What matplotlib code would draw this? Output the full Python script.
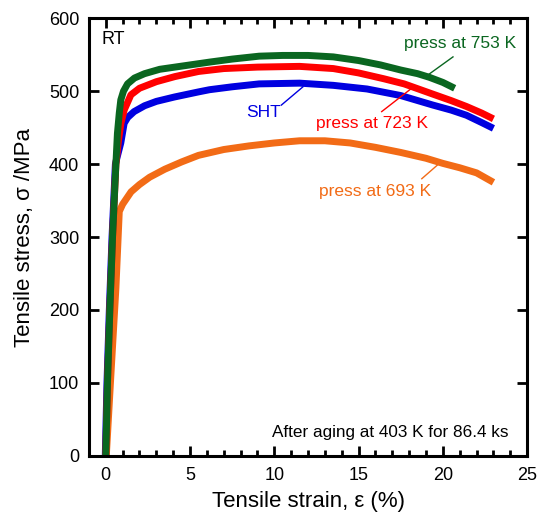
import matplotlib
matplotlib.use('Agg')
import matplotlib.pyplot as plt
from matplotlib.ticker import MultipleLocator

plt.rcParams['font.family'] = ['Liberation Sans', 'DejaVu Sans']

# ---- data ----
green_x = [0, 0.1, 0.24, 0.4, 0.6, 0.69, 0.8, 0.89, 1.05, 1.29, 1.7, 2.3, 3.2, 4.1, 5, 6.2,
           7.5, 9.1, 10.5, 12, 13.5, 15, 16.3, 17.5, 18.5, 19.2, 20, 20.7]
green_y = [0, 100, 200, 300, 400, 442, 470, 488, 500, 510, 518, 524, 530, 533, 536, 540,
           544, 548, 549, 549, 547, 542, 536, 529, 524, 519, 512, 504]

red_x = [0, 0.1, 0.24, 0.4, 0.6, 0.75, 0.9, 1.09, 1.49, 2, 3, 4.1, 5.5, 7, 9, 11.5, 13.5,
         15, 16.5, 17.7, 19.4, 20.5, 21.4, 22.3, 23]
red_y = [0, 100, 200, 300, 400, 432, 456, 474, 495, 504, 513, 520, 527, 531, 533, 534, 531,
         525, 517, 510, 496, 487, 479, 470, 462]

blue_x = [-0.03, 0.07, 0.21, 0.37, 0.57, 0.7, 0.89, 1.09, 1.3, 1.68, 2.3, 3, 4.07, 5.5, 6.15,
          7.5, 9.1, 11.5, 13.5, 15.5, 17.5, 19.4, 20.5, 21.4, 22.3, 23]
blue_y = [0, 100, 200, 300, 400, 412, 429, 456, 464, 472, 480, 486, 492, 499, 502,
          506, 510, 511, 508, 503, 494, 481, 474, 467, 457, 449]

orange_x = [0.03, 0.3, 0.6, 0.8, 1.0, 1.5, 2.0, 2.6, 3.5, 4.5, 5.5, 7, 8.5, 10, 11.5, 13,
            14.5, 16, 17.5, 19, 20, 21, 22, 23]
orange_y = [0, 110, 230, 335, 345, 362, 372, 382, 393, 403, 412, 420, 425, 429, 432, 432,
            429, 423, 416, 408, 401, 395, 388, 375]

c_green = '#0a6620'
c_red = '#ff0000'
c_blue = '#0000e0'
c_orange = '#f26b16'

fig = plt.figure(figsize=(5.39, 5.21), dpi=100)
ax = fig.add_axes([0.165, 0.125, 0.813, 0.84])

lw = 5
ax.plot(orange_x, orange_y, color=c_orange, lw=lw, solid_capstyle='butt')
ax.plot(blue_x, blue_y, color=c_blue, lw=lw, solid_capstyle='butt')
ax.plot(red_x, red_y, color=c_red, lw=lw, solid_capstyle='butt')
ax.plot(green_x, green_y, color=c_green, lw=lw, solid_capstyle='butt')

ax.set_xlim(-1, 25)
ax.set_ylim(0, 600)
ax.xaxis.set_major_locator(MultipleLocator(5))
ax.xaxis.set_minor_locator(MultipleLocator(1))
ax.yaxis.set_major_locator(MultipleLocator(100))
ax.tick_params(which='both', direction='in', top=True, right=True, width=2, labelsize=13)
ax.tick_params(which='major', length=7)
ax.tick_params(which='minor', length=4)
ax.tick_params(axis='x', which='major', pad=8)
ax.tick_params(axis='y', which='major', pad=7)
for s in ax.spines.values():
    s.set_linewidth(2.2)

ax.set_xlabel('Tensile strain, \u03b5 (%)', fontsize=16, labelpad=5)
ax.set_ylabel('Tensile stress, \u03c3 /MPa', fontsize=16, labelpad=10)

# annotations
ax.text(-0.25, 571, 'RT', fontsize=13, va='center', ha='left')
ax.text(21.0, 566, 'press at 753 K', color=c_green, fontsize=12.5, va='center', ha='center')
ax.plot([20.6, 19.1], [547, 522], color=c_green, lw=1)
ax.text(9.37, 471, 'SHT', color=c_blue, fontsize=12.5, va='center', ha='center')
ax.plot([10.42, 11.7], [481, 506], color=c_blue, lw=1)
ax.text(15.77, 456, 'press at 723 K', color=c_red, fontsize=12.5, va='center', ha='center')
ax.plot([16.37, 18.15], [472, 504], color=c_red, lw=1)
ax.text(15.97, 362, 'press at 693 K', color=c_orange, fontsize=12.5, va='center', ha='center')
ax.plot([18.75, 19.74], [380, 400], color=c_orange, lw=1)
ax.text(23.9, 32, 'After aging at 403 K for 86.4 ks', fontsize=12.3, va='center', ha='right')

fig.savefig('out.png', dpi=100)
